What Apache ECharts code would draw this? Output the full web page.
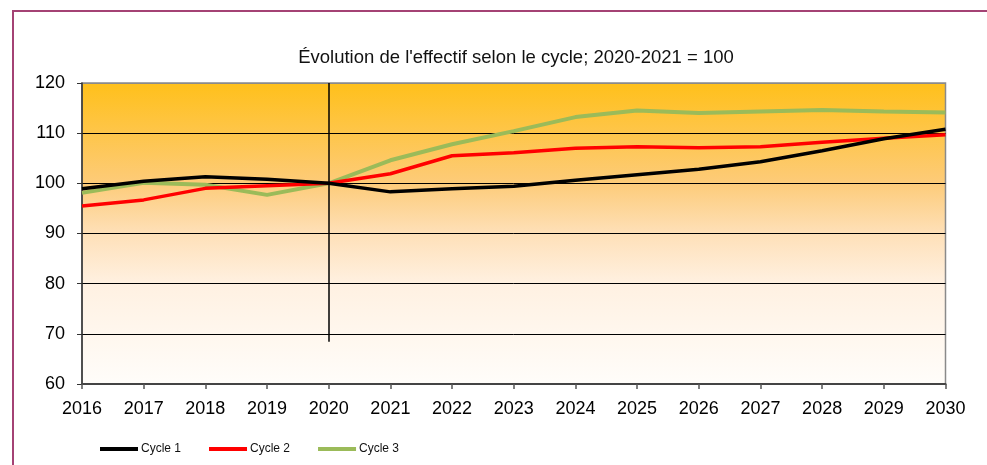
<!DOCTYPE html>
<html>
<head>
<meta charset="utf-8">
<script src="https://cdn.jsdelivr.net/npm/echarts@6/dist/echarts.min.js"></script>
<style>
html,body{margin:0;padding:0;background:#fff;}
#chart{width:987px;height:465px;}
</style>
</head>
<body>
<div id="chart"></div>
<script>
const years = ['2016','2017','2018','2019','2020','2021','2022','2023','2024','2025','2026','2027','2028','2029','2030'];
const cycle1 = [98.9, 100.4, 101.3, 100.8, 100.0, 98.3, 98.9, 99.4, 100.6, 101.7, 102.8, 104.3, 106.5, 108.9, 110.8];
const cycle2 = [95.5, 96.7, 99.0, 99.5, 100.0, 101.9, 105.5, 106.1, 107.0, 107.3, 107.1, 107.3, 108.2, 109.0, 109.7];
const cycle3 = [98.1, 100.1, 99.7, 97.7, 100.0, 104.6, 107.8, 110.4, 113.2, 114.5, 114.0, 114.3, 114.6, 114.3, 114.1];
const seriesNames = ['Cycle 1', 'Cycle 2', 'Cycle 3'];
const yTicks = [60, 70, 80, 90, 100, 110, 120];
const refYear = '2020';
const refLineTop = 120;
const refLineBottom = 68.4;
const titleText = "Évolution de l'effectif selon le cycle; 2020-2021 = 100";

const chart = echarts.init(document.getElementById('chart'), null, {renderer: 'canvas'});
const font = 'Arial, "Liberation Sans", sans-serif';

const option = {
  animation: false,
  backgroundColor: '#fff',
  title: {
    text: titleText,
    left: 511,
    textAlign: 'center',
    top: 43,
    textStyle: {fontFamily: font, fontSize: 18.5, fontWeight: 'normal', color: '#111'}
  },
  graphic: [{
    type: 'rect',
    shape: {x: 13, y: 11, width: 1000, height: 500},
    style: {fill: null, stroke: '#A44274', lineWidth: 2},
    silent: true,
    z: 100
  }],
  grid: {
    left: 82, right: 41.5, top: 83, bottom: 81,
    show: true,
    borderColor: '#8a8a8a',
    borderWidth: 1.5,
    backgroundColor: new echarts.graphic.LinearGradient(0, 0, 0, 1, [
      {offset: 0, color: '#FFC01A'},
      {offset: 0.33, color: '#FDCB78'},
      {offset: 0.5, color: '#FEE0B8'},
      {offset: 0.67, color: '#FFF1E2'},
      {offset: 1, color: '#FFFDFA'}
    ])
  },
  legend: {
    left: 95,
    top: 438,
    itemWidth: 38,
    itemHeight: 4,
    itemGap: 28,
    icon: 'rect',
    textStyle: {fontFamily: font, fontSize: 12, color: '#111', padding: [0, 0, 0, -2]},
    data: seriesNames
  },
  xAxis: {
    type: 'category',
    data: years,
    boundaryGap: false,
    axisLine: {show: true, lineStyle: {color: '#444', width: 2}},
    axisTick: {show: true, inside: false, length: 5, lineStyle: {color: '#555', width: 1.5}},
    axisLabel: {fontFamily: font, fontSize: 18, color: '#000', margin: 16},
    splitLine: {show: false}
  },
  yAxis: {
    type: 'value',
    min: 60, max: 120, interval: 10,
    axisLine: {show: true, lineStyle: {color: '#333', width: 1.5}},
    axisTick: {show: true, length: 5, lineStyle: {color: '#333'}},
    axisLabel: {fontFamily: font, fontSize: 18, color: '#000', margin: 17},
    splitLine: {show: true, lineStyle: {color: ['#8a8a8a', '#000', '#000', '#000', '#000', '#000', '#8a8a8a'], width: 1}}
  },
  series: [
    {
      name: seriesNames[0], type: 'line', data: cycle1, showSymbol: false, symbol: 'none',
      lineStyle: {color: '#000', width: 3.5}, itemStyle: {color: '#000'}, z: 4,
      markLine: {
        silent: true, symbol: ['none', 'none'], label: {show: false},
        lineStyle: {color: '#000', width: 1.5, type: 'solid'},
        data: [[{coord: [refYear, refLineTop]}, {coord: [refYear, refLineBottom]}]]
      }
    },
    {
      name: seriesNames[1], type: 'line', data: cycle2, showSymbol: false, symbol: 'none',
      lineStyle: {color: '#FF0000', width: 3.5}, itemStyle: {color: '#FF0000'}, z: 3
    },
    {
      name: seriesNames[2], type: 'line', data: cycle3, showSymbol: false, symbol: 'none',
      lineStyle: {color: '#9BBB59', width: 4}, itemStyle: {color: '#9BBB59'}, z: 2
    }
  ]
};
chart.setOption(option);
</script>
</body>
</html>
